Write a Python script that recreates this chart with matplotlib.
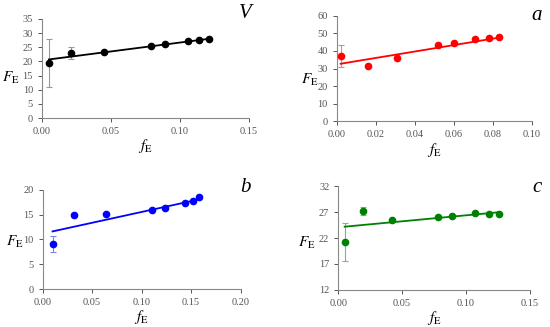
import matplotlib
matplotlib.use("Agg")
import matplotlib.pyplot as plt

plt.rcParams['font.family'] = ['Liberation Serif', 'DejaVu Serif']
plt.rcParams['mathtext.fontset'] = 'stix'

# panel V
v_x = [0.005, 0.021, 0.045, 0.079, 0.089, 0.106, 0.114, 0.121]
v_y = [19.5, 23.0, 23.4, 25.4, 26.0, 27.2, 27.5, 28.1]
v_err = [8.4, 2.1, 0, 0, 0, 0, 0, 0]
v_line_x = [0.005, 0.121]
v_line_y = [20.7, 28.0]

# panel a
a_x = [0.002, 0.016, 0.031, 0.052, 0.060, 0.071, 0.078, 0.083]
a_y = [37.0, 31.3, 36.2, 43.3, 44.3, 46.8, 47.3, 48.0]
a_err = [6.4, 0, 0, 0, 0, 0, 0, 0]
a_line_x = [0.002, 0.083]
a_line_y = [32.7, 47.5]

# panel b
b_x = [0.010, 0.032, 0.064, 0.110, 0.124, 0.144, 0.152, 0.158]
b_y = [9.1, 14.9, 15.1, 16.0, 16.3, 17.3, 17.8, 18.6]
b_err = [1.55, 0, 0, 0, 0, 0, 0, 0]
b_line_x = [0.010, 0.157]
b_line_y = [11.6, 18.0]

# panel c
c_x = [0.005, 0.019, 0.042, 0.078, 0.089, 0.107, 0.118, 0.126]
c_y = [21.2, 27.3, 25.5, 26.0, 26.3, 26.8, 26.6, 26.6]
c_err = [3.65, 0.8, 0, 0, 0, 0, 0, 0]
c_line_x = [0.005, 0.126]
c_line_y = [24.2, 27.0]

fig = plt.figure(figsize=(5.5, 3.27), dpi=100)

panels = [
    # rect, x, y, err, line x, line y, colour, errcolour, xticks, yticks,
    # label, label pos (px), ylabel coords
    ([0.0764, 0.6391, 0.3764, 0.3028], v_x, v_y, v_err, v_line_x, v_line_y,
     'black', '#999999', [0, 0.05, 0.10, 0.15], list(range(0, 36, 5)),
     'V', (245, 14), (-0.15, 0.40)),
    ([0.6122, 0.6290, 0.3545, 0.3230], a_x, a_y, a_err, a_line_x, a_line_y,
     'red', '#f08080', [0, 0.02, 0.04, 0.06, 0.08, 0.10], list(range(0, 61, 10)),
     'a', (537, 15), (-0.14, 0.39)),
    ([0.0776, 0.1162, 0.3600, 0.3037], b_x, b_y, b_err, b_line_x, b_line_y,
     'blue', '#8080f0', [0, 0.05, 0.10, 0.15, 0.20], list(range(0, 21, 5)),
     'b', (245, 187), (-0.14, 0.47)),
    ([0.6151, 0.1140, 0.3480, 0.3160], c_x, c_y, c_err, c_line_x, c_line_y,
     'green', '#70c070', [0, 0.05, 0.10, 0.15], [12, 17, 22, 27, 32],
     'c', (537, 187), (-0.165, 0.45)),
]

for rect, x, y, err, lx, ly, col, ecol, xt, yt, lab, lpos, ypos in panels:
    ax = fig.add_axes(rect)
    ax.errorbar(x, y, yerr=err, fmt='none', ecolor=ecol, elinewidth=0.8,
                capsize=2.5, capthick=0.8, zorder=2)
    ax.plot(lx, ly, '-', color=col, linewidth=1.3, zorder=3)
    ax.plot(x, y, 'o', color=col, markersize=4.5, zorder=4)
    ax.set_xlim(xt[0], xt[-1])
    ax.set_ylim(yt[0], yt[-1])
    ax.set_xticks(xt)
    ax.set_yticks(yt)
    ax.set_xticklabels(['%.2f' % t for t in xt])
    ax.set_yticklabels([str(t) for t in yt])
    for s in ['top', 'right']:
        ax.spines[s].set_visible(False)
    for s in ['left', 'bottom']:
        ax.spines[s].set_color('#888888')
        ax.spines[s].set_linewidth(0.8)
    ax.tick_params(labelsize=7.5, colors='#555555', length=3, width=0.7)
    ax.set_xlabel(r'$f_{\rm E}$', fontsize=11, labelpad=1)
    ax.set_ylabel(r'$F_{\rm E}$', fontsize=11, rotation=0, va='center', ha='center')
    ax.yaxis.set_label_coords(ypos[0], ypos[1])
    fig.text(lpos[0] / 550, 1 - lpos[1] / 327, lab, fontsize=15,
             style='italic', ha='center', va='center')

fig.savefig('out.png', dpi=100)
